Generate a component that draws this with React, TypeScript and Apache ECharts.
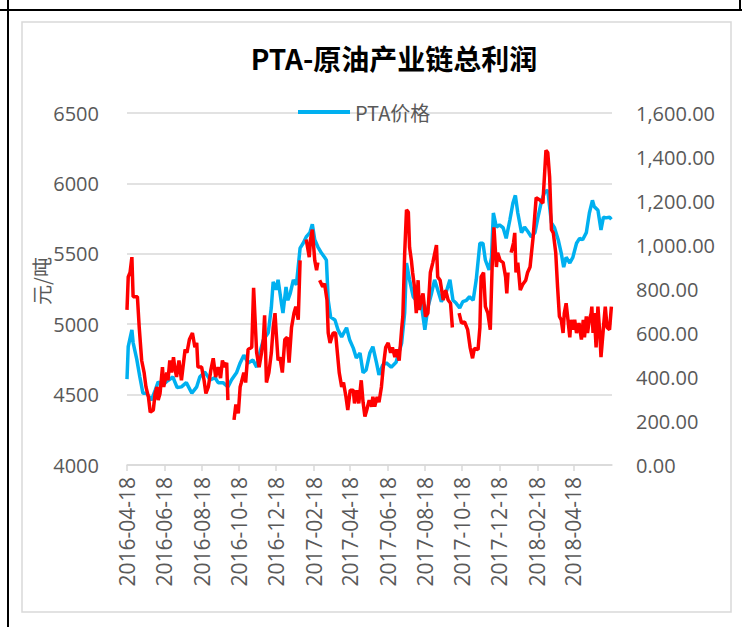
import React, { useEffect, useRef } from 'react';
import * as echarts from 'echarts';

const TITLE = 'PTA-原油产业链总利润';
const PTA_NAME = 'PTA价格';
const PROFIT_NAME = '总利润';
const LEFT_AXIS_NAME = '元/吨';
const X_MIN = '2016-04-18';
const X_MAX = '2018-06-20';
const X_TICK_DATES = [
  '2016-04-18', '2016-06-18', '2016-08-18', '2016-10-18', '2016-12-18', '2017-02-18', '2017-04-18',
  '2017-06-18', '2017-08-18', '2017-10-18', '2017-12-18', '2018-02-18', '2018-04-18',
];

const ptaDates = [
  '2016-04-18', '2016-04-20', '2016-04-26', '2016-04-28', '2016-05-04', '2016-05-09', '2016-05-14', '2016-05-20',
  '2016-05-28', '2016-06-03', '2016-06-08', '2016-06-16', '2016-06-24', '2016-07-02', '2016-07-09', '2016-07-16',
  '2016-07-24', '2016-08-02', '2016-08-10', '2016-08-15', '2016-08-23', '2016-09-01', '2016-09-09', '2016-09-14',
  '2016-09-22', '2016-09-30', '2016-10-06', '2016-10-14', '2016-10-20', '2016-10-26', '2016-11-02', '2016-11-10',
  '2016-11-16', '2016-11-21', '2016-11-27', '2016-12-05', '2016-12-10', '2016-12-13', '2016-12-18', '2016-12-21',
  '2016-12-27', '2016-12-29', '2017-01-03', '2017-01-06', '2017-01-10', '2017-01-15', '2017-01-20', '2017-01-26',
  '2017-01-31', '2017-02-05', '2017-02-11', '2017-02-15', '2017-02-19', '2017-02-24', '2017-03-02', '2017-03-07',
  '2017-03-10', '2017-03-13', '2017-03-17', '2017-03-24', '2017-03-29', '2017-04-04', '2017-04-12', '2017-04-17',
  '2017-04-23', '2017-04-28', '2017-05-04', '2017-05-09', '2017-05-14', '2017-05-20', '2017-05-25', '2017-05-31',
  '2017-06-04', '2017-06-10', '2017-06-16', '2017-06-24', '2017-07-02', '2017-07-11', '2017-07-16', '2017-07-19',
  '2017-07-24', '2017-07-30', '2017-08-04', '2017-08-07', '2017-08-12', '2017-08-18', '2017-08-23', '2017-08-29',
  '2017-09-03', '2017-09-08', '2017-09-14', '2017-09-22', '2017-09-28', '2017-10-03', '2017-10-08', '2017-10-14',
  '2017-10-19', '2017-10-25', '2017-10-30', '2017-11-05', '2017-11-10', '2017-11-16', '2017-11-21', '2017-11-25',
  '2017-12-01', '2017-12-05', '2017-12-08', '2017-12-13', '2017-12-18', '2017-12-24', '2017-12-29', '2018-01-04',
  '2018-01-09', '2018-01-13', '2018-01-17', '2018-01-23', '2018-01-28', '2018-02-03', '2018-02-08', '2018-02-14',
  '2018-02-19', '2018-02-25', '2018-03-02', '2018-03-07', '2018-03-13', '2018-03-18', '2018-03-24', '2018-03-29',
  '2018-04-02', '2018-04-06', '2018-04-12', '2018-04-17', '2018-04-23', '2018-04-28', '2018-05-03', '2018-05-09',
  '2018-05-14', '2018-05-19', '2018-05-22', '2018-05-28', '2018-06-02', '2018-06-06', '2018-06-10', '2018-06-16',
  '2018-06-19',
];
const ptaValues = [
  4610, 4840, 4960, 4870, 4750, 4625, 4510, 4510,
  4460, 4530, 4590, 4570, 4600, 4625, 4550, 4555,
  4585, 4510, 4555, 4625, 4660, 4605, 4620, 4585,
  4585, 4555, 4605, 4655, 4725, 4780, 4725, 4745,
  4695, 4795, 4890, 4940, 5120, 5300, 5245, 5315,
  5135, 5080, 5265, 5170, 5220, 5315, 5280, 5540,
  5575, 5620, 5650, 5710, 5600, 5550, 5505, 5475,
  5455, 5170, 5050, 5030, 4960, 4910, 4975, 4890,
  4830, 4760, 4795, 4655, 4675, 4795, 4840, 4725,
  4640, 4710, 4725, 4695, 4730, 4865, 5080, 5435,
  5315, 5195, 5170, 5185, 5150, 4960, 5120, 5220,
  5315, 5245, 5160, 5230, 5315, 5170, 5150, 5115,
  5160, 5170, 5195, 5170, 5315, 5575, 5575, 5455,
  5385, 5475, 5790, 5690, 5705, 5685, 5610, 5740,
  5860, 5915, 5790, 5650, 5690, 5655, 5620, 5650,
  5760, 5880, 5940, 5950, 5720, 5685, 5600, 5505,
  5405, 5475, 5435, 5475, 5575, 5610, 5600, 5650,
  5790, 5880, 5835, 5810, 5670, 5760, 5755, 5760,
  5745,
];

const profitDates = [
  '2016-04-18', '2016-04-20', '2016-04-23', '2016-04-26', '2016-04-28', '2016-05-01', '2016-05-05', '2016-05-08',
  '2016-05-12', '2016-05-16', '2016-05-19', '2016-05-23', '2016-05-26', '2016-05-31', '2016-06-03', '2016-06-06',
  '2016-06-08', '2016-06-11', '2016-06-15', '2016-06-17', '2016-06-22', '2016-06-24', '2016-06-27', '2016-06-30',
  '2016-07-03', '2016-07-05', '2016-07-08', '2016-07-12', '2016-07-16', '2016-07-22', '2016-07-25', '2016-07-29',
  '2016-08-03', '2016-08-07', '2016-08-10', '2016-08-12', '2016-08-18', '2016-08-22', '2016-08-25', '2016-08-29',
  '2016-09-02', '2016-09-06', '2016-09-10', '2016-09-14', '2016-09-18', '2016-09-21', '2016-09-25', '2016-09-28',
  '2016-09-30', '2016-10-05', '2016-10-10', '2016-10-13', '2016-10-17', '2016-10-20', '2016-10-22', '2016-10-26',
  '2016-10-29', '2016-11-02', '2016-11-08', '2016-11-11', '2016-11-16', '2016-11-20', '2016-11-24', '2016-11-27',
  '2016-11-29', '2016-12-02', '2016-12-06', '2016-12-10', '2016-12-13', '2016-12-16', '2016-12-18', '2016-12-21',
  '2016-12-24', '2016-12-28', '2017-01-01', '2017-01-05', '2017-01-08', '2017-01-12', '2017-01-16', '2017-01-19',
  '2017-01-23', '2017-01-26', '2017-01-31', '2017-02-05', '2017-02-10', '2017-02-12', '2017-02-15', '2017-02-19',
  '2017-02-22', '2017-02-24', '2017-02-25', '2017-02-27', '2017-03-04', '2017-03-07', '2017-03-11', '2017-03-13',
  '2017-03-16', '2017-03-21', '2017-03-25', '2017-03-28', '2017-03-31', '2017-04-04', '2017-04-07', '2017-04-11',
  '2017-04-14', '2017-04-18', '2017-04-23', '2017-04-25', '2017-04-29', '2017-05-02', '2017-05-06', '2017-05-09',
  '2017-05-12', '2017-05-15', '2017-05-19', '2017-05-23', '2017-05-25', '2017-05-28', '2017-06-01', '2017-06-04',
  '2017-06-08', '2017-06-11', '2017-06-15', '2017-06-19', '2017-06-23', '2017-06-26', '2017-06-30', '2017-07-03',
  '2017-07-07', '2017-07-11', '2017-07-13', '2017-07-16', '2017-07-19', '2017-07-22', '2017-07-24', '2017-07-27',
  '2017-07-29', '2017-08-01', '2017-08-04', '2017-08-07', '2017-08-09', '2017-08-12', '2017-08-15', '2017-08-19',
  '2017-08-23', '2017-08-27', '2017-08-31', '2017-09-06', '2017-09-08', '2017-09-12', '2017-09-17', '2017-09-21',
  '2017-09-25', '2017-09-29', '2017-10-02', '2017-10-08', '2017-10-13', '2017-10-17', '2017-10-22', '2017-10-27',
  '2017-10-31', '2017-11-04', '2017-11-07', '2017-11-13', '2017-11-16', '2017-11-18', '2017-11-22', '2017-11-25',
  '2017-11-29', '2017-12-03', '2017-12-06', '2017-12-09', '2017-12-13', '2017-12-15', '2017-12-19', '2017-12-24',
  '2017-12-28', '2017-12-30', '2018-01-01', '2018-01-03', '2018-01-06', '2018-01-10', '2018-01-12', '2018-01-14',
  '2018-01-17', '2018-01-21', '2018-01-25', '2018-01-30', '2018-02-02', '2018-02-06', '2018-02-11', '2018-02-16',
  '2018-02-22', '2018-02-27', '2018-03-04', '2018-03-07', '2018-03-10', '2018-03-13', '2018-03-16', '2018-03-20',
  '2018-03-23', '2018-03-26', '2018-03-29', '2018-04-01', '2018-04-03', '2018-04-06', '2018-04-09', '2018-04-12',
  '2018-04-14', '2018-04-17', '2018-04-20', '2018-04-23', '2018-04-27', '2018-05-01', '2018-05-04', '2018-05-06',
  '2018-05-09', '2018-05-11', '2018-05-14', '2018-05-17', '2018-05-18', '2018-05-20', '2018-05-22', '2018-05-25',
  '2018-05-28', '2018-05-31', '2018-06-02', '2018-06-06', '2018-06-09', '2018-06-12', '2018-06-16', '2018-06-19',
];
const profitValues = [
  705, 855, 875, 945, 765, 765, 765, 625,
  475, 420, 355, 310, 240, 250, 325, 355,
  295, 325, 445, 355, 420, 385, 475, 420,
  490, 445, 400, 475, 385, 525, 510, 570,
  600, 535, 555, 445, 445, 385, 325, 355,
  430, 485, 400, 445, 395, 475, 445, 465,
  295, null, 205, 275, 235, 355, 375, 420,
  375, 525, 535, 805, 510, 445, 510, 570,
  680, 375, 420, 510, 625, 690, 600, 475,
  490, 420, 570, 580, 465, 625, 690, 720,
  660, 930, null, 1025, 945, 1025, 1070, 930,
  885, 920, null, 840, 810, 825, 750, 600,
  555, 600, 600, 510, 420, 355, 375, 310,
  250, 340, 340, 280, 340, 280, 385, 285,
  220, 250, 295, 265, 310, 265, 310, 285,
  355, 445, 535, 555, 510, 535, 490, 525,
  475, 615, 675, 960, 1160, 1150, 990, 930,
  875, 810, 690, 840, 705, 750, 780, 675,
  690, 875, 920, 1000, 855, 840, 750, 795,
  750, 735, 625, null, 690, 645, 650, 615,
  535, 485, 530, 525, 625, 855, 875, 720,
  690, 615, 900, 1080, 900, 965, 930, 920,
  855, 780, 875, null, 965, 1010, 1055, 875,
  920, 795, 820, 840, 875, 900, 1035, 1215,
  1205, 1190, 1430, 1420, 1310, 1070, 1055, 965,
  810, 675, 660, 600, 690, 735, 660, 580,
  660, 615, 660, 600, 645, 570, 660, 580,
  675, 600, 660, 690, 720, 600, 690, 535,
  720, 600, 490, 625, 720, 625, 615, 720,
];

function ts(s: string): number {
  const [y, m, d] = s.split('-').map(Number);
  return Date.UTC(y, m - 1, d);
}
function pad(n: number): string {
  return n < 10 ? '0' + n : String(n);
}
function fmtDate(v: number): string {
  const d = new Date(v);
  return `${d.getUTCFullYear()}-${pad(d.getUTCMonth() + 1)}-${pad(d.getUTCDate())}`;
}

const GRAY_TEXT = '#595959';
const GRID_GRAY = '#d9d9d9';
const NUM_FONT = 'Open Sans';
const CJK_FONT = 'Noto Sans CJK SC';

export default function App() {
  const ref = useRef<HTMLDivElement>(null);

  useEffect(() => {
    if (!ref.current) return;
    const chart = echarts.init(ref.current, null, { renderer: 'svg' });
    const tickValues = X_TICK_DATES.map(ts);

    const option: any = {
      animation: false,
      backgroundColor: '#ffffff',
      grid: { left: 127, right: 130, top: 113, bottom: 162, containLabel: false },
      legend: {
        data: [PTA_NAME],
        left: 293,
        top: 97,
        icon: 'rect',
        itemWidth: 52,
        itemHeight: 4,
        itemGap: 10,
        textStyle: { color: GRAY_TEXT, fontSize: 20, fontFamily: CJK_FONT },
      },
      xAxis: {
        type: 'value',
        min: ts(X_MIN),
        max: ts(X_MAX),
        axisLine: { show: true, lineStyle: { color: GRID_GRAY, width: 1.5 } },
        axisTick: { show: true, customValues: tickValues, length: 6, lineStyle: { color: GRID_GRAY, width: 1.5 } },
        axisLabel: {
          customValues: tickValues,
          rotate: 90,
          margin: 12,
          color: GRAY_TEXT,
          fontSize: 21,
          fontFamily: NUM_FONT,
          showMinLabel: true,
          showMaxLabel: true,
          formatter: (v: number) => fmtDate(v),
        },
        splitLine: { show: false },
      },
      yAxis: [
        {
          type: 'value',
          min: 4000,
          max: 6500,
          interval: 500,
          axisLine: { show: false },
          axisTick: { show: false },
          axisLabel: {
            color: GRAY_TEXT,
            fontSize: 20,
            fontFamily: NUM_FONT,
            margin: 28,
            formatter: (v: number) => String(v),
          },
          splitLine: { show: true, lineStyle: { color: GRID_GRAY, width: 1.5 } },
        },
        {
          type: 'value',
          min: 0,
          max: 1600,
          interval: 200,
          position: 'right',
          axisLine: { show: false },
          axisTick: { show: false },
          axisLabel: {
            color: GRAY_TEXT,
            fontSize: 20,
            fontFamily: NUM_FONT,
            margin: 24,
            formatter: (v: number) =>
              v.toLocaleString('en-US', { minimumFractionDigits: 2, maximumFractionDigits: 2 }),
          },
          splitLine: { show: false },
        },
      ],
      series: [
        {
          name: PTA_NAME,
          type: 'line',
          yAxisIndex: 0,
          showSymbol: false,
          symbol: 'none',
          lineStyle: { color: '#00B0F0', width: 3.5 },
          itemStyle: { color: '#00B0F0' },
          data: ptaDates.map((d, i) => [ts(d), ptaValues[i]]),
        },
        {
          name: PROFIT_NAME,
          type: 'line',
          yAxisIndex: 1,
          showSymbol: false,
          symbol: 'none',
          connectNulls: false,
          lineStyle: { color: '#FF0000', width: 3.5 },
          itemStyle: { color: '#FF0000' },
          data: profitDates.map((d, i) => [ts(d), profitValues[i] === null ? '-' : profitValues[i]]),
        },
      ],
      graphic: [
        {
          type: 'rect',
          silent: true,
          shape: { x: 22, y: 22, width: 709, height: 590 },
          style: { fill: 'none', stroke: GRID_GRAY, lineWidth: 1.5 },
        },
        {
          type: 'line',
          silent: true,
          shape: { x1: 0, y1: 10, x2: 742, y2: 10 },
          style: { stroke: '#000000', lineWidth: 2 },
        },
        {
          type: 'line',
          silent: true,
          shape: { x1: 8, y1: 0, x2: 8, y2: 627 },
          style: { stroke: '#000000', lineWidth: 2 },
        },
        {
          type: 'line',
          silent: true,
          shape: { x1: 740, y1: 0, x2: 740, y2: 10 },
          style: { stroke: '#000000', lineWidth: 2 },
        },
        {
          type: 'text',
          silent: true,
          x: 394,
          y: 58,
          style: {
            text: TITLE,
            fill: '#000000',
            font: `bold 28px "${CJK_FONT}"`,
            align: 'center',
            verticalAlign: 'middle',
          },
        },
        {
          type: 'text',
          silent: true,
          x: 41,
          y: 281,
          rotation: Math.PI / 2,
          style: {
            text: LEFT_AXIS_NAME,
            fill: GRAY_TEXT,
            font: `20px "${CJK_FONT}"`,
            align: 'center',
            verticalAlign: 'middle',
          },
        },
      ],
    };

    chart.setOption(option);
    return () => chart.dispose();
  }, []);

  return (
    <div
      ref={ref}
      style={{ position: 'absolute', left: 0, top: 0, width: 742, height: 627, background: '#fff' }}
    />
  );
}
